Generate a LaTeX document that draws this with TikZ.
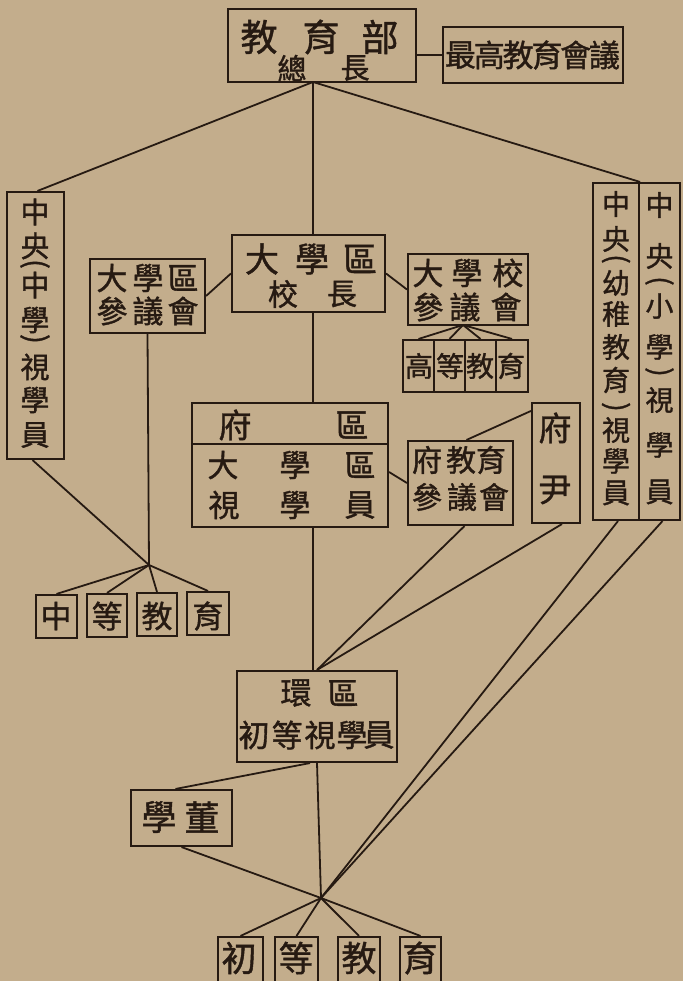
\documentclass[tikz,border=0pt]{standalone}
\usepackage{fontspec}
\setmainfont{Noto Sans CJK TC}[FakeBold=1.2]
\definecolor{paper}{RGB}{195,173,140}
\definecolor{ink}{RGB}{38,26,18}
\tikzset{
  box/.style={draw=ink, line width=2.1pt, inner sep=0pt},
  conn/.style={draw=ink, line width=1.8pt},
  ch/.style={text=ink, inner sep=0pt},
}
\newcommand\rbox[5]{\node[box, minimum width={(#4)-(#2)}, minimum height={(#5)-(#3)}] (#1) at ({((#2)+(#4))/2},{((#3)+(#5))/2}) {};}
\newcommand\hchars[4]{\foreach \xx/\cc [count=\i] in {#4} {\node[ch, font=\fontsize{#2}{#2}\selectfont] (#1\i) at (\xx,#3) {\cc};}}
\newcommand\vchars[4]{\foreach \yy/\cc/\rr [count=\i] in {#4} {\node[ch, rotate=\rr, font=\fontsize{#2}{#2}\selectfont] (#1\i) at (#3,\yy) {\cc};}}
\begin{document}
\begin{tikzpicture}[x=1pt,y=-1pt]
\fill[paper] (0,0) rectangle (683,981);
\useasboundingbox (0,0) rectangle (683,981);
\clip (0,0) rectangle (683,981);

% ---- top
\rbox{top}{228}{9}{416}{82}
\hchars{topa}{37}{37}{259/教,321/育,380/部}
\hchars{topb}{29}{68}{292/總,355/長}
\rbox{zgh}{443}{27}{623}{83}
\hchars{zght}{31}{55}{460.5/最,489.3/高,518.1/教,546.9/育,575.7/會,604.5/議}

% ---- left vertical box
\rbox{zy}{7}{192}{64}{459}
\vchars{zyt}{29}{35}{212/中/0,246/央/0,264/{(}/-90,285/中/0,320/學/0,339/{)}/-90,367/視/0,400/學/0,435/員/0}

% ---- right double vertical box
\rbox{yz}{593}{183}{639}{520}
\rbox{xx}{639}{183}{680}{520}
\vchars{yzt}{28}{616}{204/中/0,239/央/0,259/{(}/-90,283/幼/0,314/稚/0,347/教/0,380/育/0,407/{)}/-90,430/視/0,461/學/0,493/員/0}
\vchars{xxt}{28}{659.5}{205/中/0,256/央/0,281/{(}/-90,306/小/0,347/學/0,372/{)}/-90,400/視/0,445/學/0,492/員/0}

% ---- university district
\rbox{dxq}{232}{235}{385}{312}
\hchars{dxqa}{34}{259}{262/大,312/學,360/區}
\hchars{dxqb}{30}{294}{283/校,342/長}

\rbox{dxqc}{90}{259}{205}{333}
\hchars{dxqca}{31}{278}{112/大,148/學,183/區}
\hchars{dxqcb}{31}{311}{112/參,148/議,183/會}

\rbox{dxxc}{408}{254}{528}{325}
\hchars{dxxca}{31}{273}{428/大,467/學,508/校}
\hchars{dxxcb}{31}{307}{428/參,465/議,506/會}

\rbox{gd1}{403}{340}{434}{392}
\rbox{gd2}{434}{340}{465}{392}
\rbox{gd3}{465}{340}{496}{392}
\rbox{gd4}{496}{340}{528}{392}
\hchars{gdt}{28}{366}{419/高,450/等,480/教,511/育}

% ---- prefecture district
\rbox{fq}{192}{403}{388}{527}
\draw[box] (fq.west |- 0,444) -- (fq.east |- 0,444);
\hchars{fqa}{33}{425}{235/府,352/區}
\hchars{fqb}{31}{465}{223/大,295/學,360/區}
\hchars{fqc}{31}{505}{224/視,295/學,360/員}

\rbox{fjc}{408}{441}{513}{525}
\hchars{fjca}{30}{460}{427/府,461/教,491/育}
\hchars{fjcb}{30}{497}{427/參,462/議,494/會}

\rbox{fy}{532}{403}{580}{523}
\vchars{fyt}{33}{555}{428/府/0,490/尹/0}

% ---- secondary education
\rbox{zd1}{36}{595}{77}{638}
\rbox{zd2}{87}{594}{127}{637}
\rbox{zd3}{137}{593}{177}{636}
\rbox{zd4}{187}{592}{229}{635}
\hchars{zdt}{31}{616}{56/中,107/等,157/教,208/育}

% ---- circuit district
\rbox{hq}{237}{671}{397}{762}
\hchars{hqa}{31}{693}{296/環,343/區}
\hchars{hqb}{31}{735}{254/初,287/等,320/視,352/學,379/員}

\rbox{xd}{131}{790}{232}{846}
\hchars{xdt}{35}{817}{159/學,202/董}

% ---- primary education
\rbox{cd1}{218}{937}{263}{992}
\rbox{cd2}{275}{937}{318}{992}
\rbox{cd3}{338}{937}{380}{992}
\rbox{cd4}{400}{937}{441}{992}
\hchars{cdt}{35}{958}{239/初,296/等,359/教,420/育}

% ---- connectors
\coordinate (tophub) at (313,82);
\coordinate (gdhub) at (463,325);
\coordinate (zdhub) at (149,565);
\coordinate (cdhub) at (321,898);

\draw[conn] (top.east |- zgh.west) -- (zgh.west);
\draw[conn] (tophub) -- ([xshift=2pt]zy.north);
\draw[conn] (tophub) -- (tophub |- dxq.north);
\draw[conn] (tophub) -- (yz.north east);
\draw[conn] (dxq.west) -- (dxqc.east);
\draw[conn] (dxq.east) -- (dxxc.west);
\foreach \i in {1,...,4} {\draw[conn] (gdhub) -- (gd\i.north);}
\draw[conn] (tophub |- dxq.south) -- (tophub |- fq.north);
\draw[conn] ([yshift=-7pt]fq.east) -- (fjc.west);
\draw[conn] ([yshift=-9pt]fy.north west) -- ([xshift=6pt]fjc.north);
\draw[conn] (tophub |- fq.south) -- (tophub |- hq.north);
\draw[conn] ([xshift=4pt]fjc.south) -- (hq.north);
\draw[conn] ([xshift=6pt]fy.south) -- (hq.north);
\draw[conn] ([xshift=2pt]yz.south) -- (cdhub);
\draw[conn] ([xshift=3pt]xx.south) -- (cdhub);
\draw[conn] (hq.south) -- (cdhub);
\draw[conn] ([xshift=-7pt]hq.south) -- ([xshift=-6pt]xd.north);
\draw[conn] (xd.south) -- (cdhub);
\foreach \i in {1,...,4} {\draw[conn] (cdhub) -- (cd\i.north);}
\draw[conn] ([xshift=-3pt]zy.south) -- (zdhub);
\draw[conn] (dxqc.south) -- (zdhub);
\foreach \i in {1,...,4} {\draw[conn] (zdhub) -- (zd\i.north);}
\end{tikzpicture}
\end{document}
